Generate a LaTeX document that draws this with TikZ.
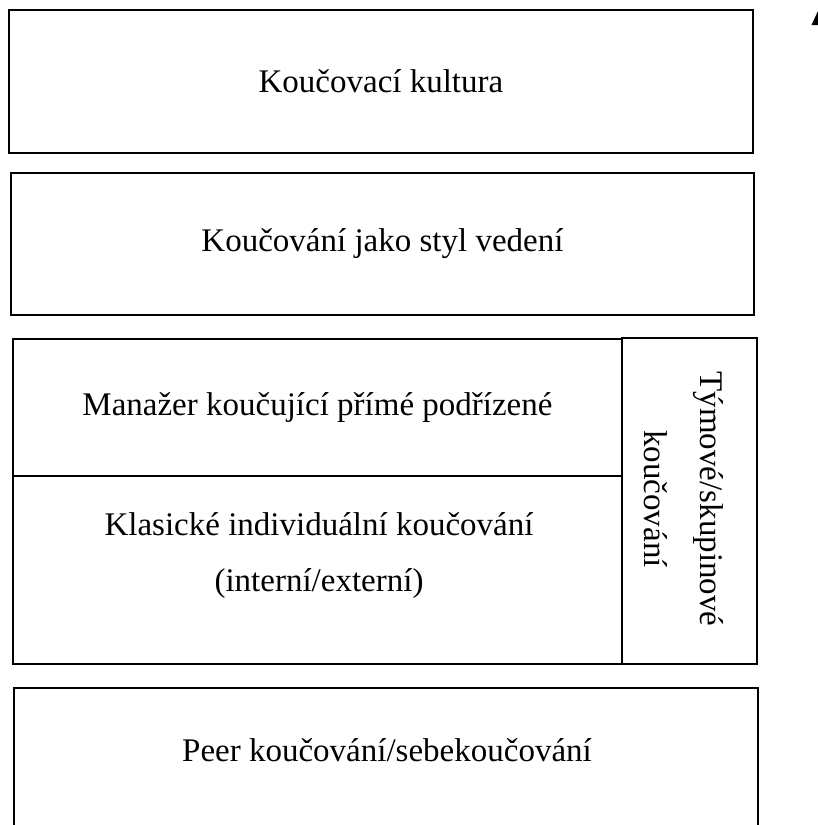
\documentclass[tikz,border=0pt]{standalone}
\usepackage{fontspec}
\setmainfont{Liberation Serif}
\begin{document}
\begin{tikzpicture}[x=1pt,y=-1pt,
  box/.style={draw=black,line width=1.9pt,rectangle,inner sep=0pt,anchor=north west},
  lbl/.style={font=\fontsize{33}{56}\selectfont,inner sep=0pt,align=center}]
\useasboundingbox (0,0) rectangle (818,825);
\clip (0,0) rectangle (818,825);
% boxes
\node[box,minimum width=744pt,minimum height=143pt] (b1) at (8,9) {};
\node[box,minimum width=743pt,minimum height=142pt] (b2) at (10,172) {};
\node[box,minimum width=609pt,minimum height=137pt] (b3a) at (12,338) {};
\node[box,minimum width=609pt,minimum height=188pt] (b3b) at (12,475) {};
\node[box,minimum width=135pt,minimum height=326pt] (b3c) at (621,337) {};
\node[box,minimum width=744pt,minimum height=160pt] (b4) at (13,687) {};
% labels
\node[lbl] (t1) at (b1.center) {Koučovací kultura};
\node[lbl] (t2) at (b2.center) {Koučování jako styl vedení};
\node[lbl] (t3) at (b3a.center) {Manažer koučující přímé podřízené};
\node[lbl] (t4) at (319,556) {Klasické individuální koučování\\(interní/externí)};
\node[lbl,rotate=-90] (t5) at (684,499) {Týmové/skupinové\\koučování};
\node[lbl] (t6) at (387,750) {Peer koučování/sebekoučování};
% partial arrow tip at top right
\fill[black] (818,11) -- (811.5,25) -- (824.5,25) -- cycle;
\end{tikzpicture}
\end{document}
